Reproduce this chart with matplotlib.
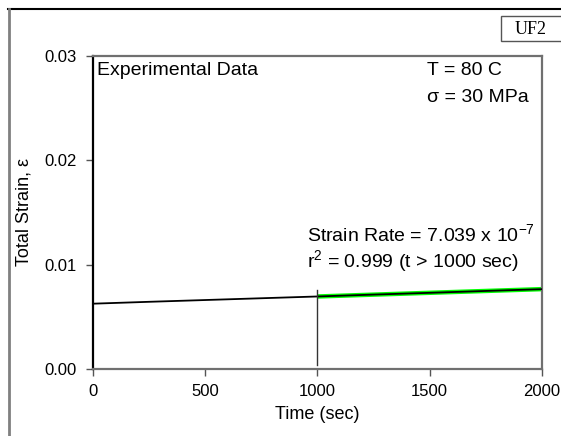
import matplotlib
matplotlib.use("Agg")
import matplotlib.pyplot as plt
from matplotlib.lines import Line2D
from matplotlib.patches import Rectangle

plt.rcParams['font.family'] = ['Liberation Sans', 'DejaVu Sans']
plt.rcParams['mathtext.fontset'] = 'custom'
plt.rcParams['mathtext.rm'] = 'Liberation Sans'
plt.rcParams['mathtext.it'] = 'Liberation Sans'

# Creep test record: time (sec) vs total strain
time_sec = [0, 250, 500, 750, 1000, 1250, 1500, 1750, 2000]
strain = [0.00626, 0.00644, 0.00661, 0.00678, 0.00695, 0.00713, 0.00730, 0.00748, 0.00765]

# Linear fit for t > 1000 sec
fit_rate = 7.039e-7
fit_r2 = 0.999
fit_start = 1000
fit_end = 2000
fit_strain_at_start = 0.00695

# Marker for the start of the fit window
marker_t = 1000
marker_span = [0.0004, 0.00757]

x_ticks = [0, 500, 1000, 1500, 2000]
y_ticks = [0.00, 0.01, 0.02, 0.03]

TICK_FS = 12
LABEL_FS = 13
NOTE_FS = 14

fig = plt.figure(figsize=(5.61, 4.36), dpi=100)
ax = fig.add_axes([0.1663, 0.1537, 0.7993, 0.7179])

fit_t = [fit_start, fit_end]
fit_y = [fit_strain_at_start, fit_strain_at_start + fit_rate * (fit_end - fit_start)]
ax.plot(fit_t, fit_y, color='#00ff00', lw=3.2, solid_capstyle='butt', zorder=2)
ax.plot(time_sec, strain, color='black', lw=1.3, zorder=3)
ax.plot([marker_t, marker_t], marker_span, color='#333333', lw=1.0, zorder=3)

ax.set_xlim(0, 2000)
ax.set_ylim(0, 0.03)
ax.set_xticks(x_ticks)
ax.set_xticklabels([str(v) for v in x_ticks])
ax.set_yticks(y_ticks)
ax.set_yticklabels([f"{v:.2f}" for v in y_ticks])
ax.tick_params(axis='both', direction='out', length=5, width=1.0, color='#555555',
               labelsize=TICK_FS)
ax.tick_params(axis='y', pad=7)
ax.tick_params(axis='x', pad=6)

for side in ['top', 'right', 'bottom']:
    ax.spines[side].set_color('#707070')
    ax.spines[side].set_linewidth(1.6)
ax.spines['left'].set_color('black')
ax.spines['left'].set_linewidth(1.6)

ax.set_xlabel('Time (sec)', fontsize=LABEL_FS, va='center')
ax.xaxis.set_label_coords(0.5, -0.147)
ax.set_ylabel('Total Strain, ε', fontsize=LABEL_FS, va='center')
ax.yaxis.set_label_coords(-0.155, 0.5)

ax.text(0.009, 0.955, 'Experimental Data', transform=ax.transAxes, fontsize=NOTE_FS,
        ha='left', va='center')
ax.text(0.744, 0.955, 'T = 80 C', transform=ax.transAxes, fontsize=NOTE_FS,
        ha='left', va='center')
ax.text(0.744, 0.866, 'σ = 30 MPa', transform=ax.transAxes, fontsize=NOTE_FS,
        ha='left', va='center')
ax.text(955, 0.01294, 'Strain Rate = 7.039 x 10$^{-7}$', fontsize=NOTE_FS,
        ha='left', va='center')
ax.text(955, 0.01035, 'r$^{2}$ = 0.999 (t > 1000 sec)', fontsize=NOTE_FS,
        ha='left', va='center')

# Page frame and sample tag
W, H = 561, 436
fig.add_artist(Line2D([8 / W, 1.0], [1 - 9.5 / H, 1 - 9.5 / H],
                      transform=fig.transFigure, color='black', lw=1.5))
fig.add_artist(Line2D([8.5 / W, 8.5 / W], [0, 1 - 9.5 / H],
                      transform=fig.transFigure, color='#808080', lw=2.0))
fig.add_artist(Rectangle((501 / W, 1 - 41 / H), 70 / W, 25 / H,
                         transform=fig.transFigure, facecolor='white',
                         edgecolor='#555555', lw=1.0))
fig.text(531 / W, 1 - 29 / H, 'UF2', family=['Liberation Serif'], fontsize=13,
         ha='center', va='center')

fig.savefig('out.png', dpi=100)
